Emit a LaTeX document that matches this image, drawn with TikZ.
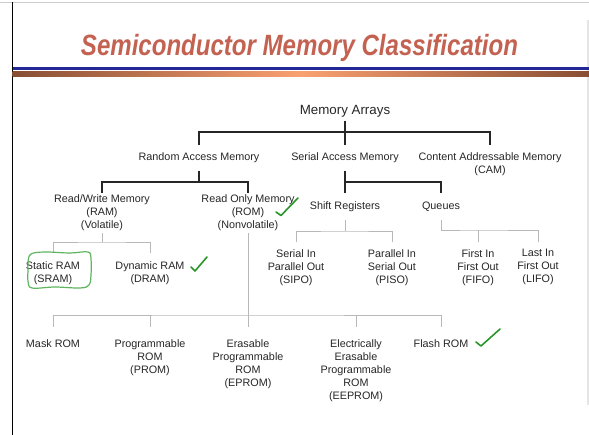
\documentclass[tikz,border=0pt]{standalone}
\usepackage{fontspec}
\setmainfont{Liberation Sans}
\usepackage{xcolor}
\usepackage{graphicx}
\usepackage{tikz}
\usetikzlibrary{positioning}

\definecolor{titlered}{RGB}{196,98,82}
\definecolor{barblue}{RGB}{35,40,150}
\definecolor{barbrown}{RGB}{135,78,52}
\definecolor{barorange}{RGB}{250,160,112}
\definecolor{checkgreen}{RGB}{40,150,40}
\definecolor{ringgreen}{RGB}{95,180,95}

\tikzset{
  mem/.style = {font=\fontsize{8.1}{9.75}\selectfont, text=black!85,
                align=center, inner sep=0pt, anchor=north},
  bline/.style = {line width=1.3pt, black!85},
  gline/.style = {line width=0.6pt, black!28},
  checkmark/.style = {checkgreen, line width=1.2pt, line cap=round, line join=round},
}

\begin{document}
\begin{tikzpicture}[x=0.75pt, y=-0.75pt]
  \useasboundingbox (0,0) rectangle (589,435);
  \draw[black!20, line width=0.8pt] (0,2.5) -- (589,2.5);
  \draw[black!10, line width=0.8pt] (588,20) -- (588,405);
  \draw[black, line width=1.2pt] (12.5,2.5) -- (12.5,435);

  \node[font=\fontsize{22}{26}\selectfont\bfseries\itshape, text=titlered, anchor=base]
    (title) at (299.5,56) {\scalebox{0.82}[1]{Semiconductor Memory Classification}};
  \fill[barblue] (12.5,67.3) rectangle (589,69.8);
  \shade[left color=barbrown, right color=barbrown, middle color=barorange]
    (12.5,72) rectangle (589,77);

  \node[mem, font=\fontsize{10}{12}\selectfont, outer ysep=2.8pt] (ma) at (345,101.3) {Memory Arrays};

  \node[mem, outer ysep=6pt] (ram) at (199,145) {Random Access Memory};
  \node[mem, outer ysep=6pt] (sam) at (345,145) {Serial Access Memory};
  \node[mem, outer ysep=6pt] (cam) at (490,145) {Content Addressable Memory\\(CAM)};

  \node[mem, outer ysep=1.5pt] (rw) at (102,193) {Read/Write Memory\\(RAM)\\(Volatile)};
  \node[mem, outer ysep=1.5pt] (rom) at (248,193) {Read Only Memory\\(ROM)\\(Nonvolatile)};
  \node[mem, outer ysep=6.5pt] (sr) at (345,193) {Shift Registers};
  \node[mem, outer ysep=6.5pt] (qu) at (441,193) {Queues};

  \node[mem, outer ysep=6.4pt] (sram) at (53,253) {Static RAM\\(SRAM)};
  \node[mem, outer ysep=6.4pt] (dram) at (150,253) {Dynamic RAM\\(DRAM)};
  \node[mem, outer ysep=6pt] (sipo) at (296,241.5) {Serial In\\Parallel Out\\(SIPO)};
  \node[mem, outer ysep=6pt] (piso) at (392,241.5) {Parallel In\\Serial Out\\(PISO)};
  \node[mem, outer ysep=6pt] (fifo) at (478,241.5) {First In\\First Out\\(FIFO)};
  \node[mem, outer ysep=6pt] (lifo) at (538,241.5) {Last In\\First Out\\(LIFO)};

  \node[mem, outer ysep=9.75pt] (mask) at (53,327) {Mask ROM};
  \node[mem, outer ysep=9.75pt] (prom) at (150,327) {Programmable\\ROM\\(PROM)};
  \node[mem, outer ysep=9.75pt] (eprom) at (248,327) {Erasable\\Programmable\\ROM\\(EPROM)};
  \node[mem, outer ysep=9.75pt] (eeprom) at (356,327) {Electrically\\Erasable\\Programmable\\ROM\\(EEPROM)};
  \node[mem, outer ysep=9.75pt] (flash) at (441,327) {Flash ROM};

  \coordinate (b1) at (345,132);
  \coordinate (b2) at (199,182);
  \coordinate (b3) at (345,182);
  \draw[bline] (ma.south) -- (sam.north);
  \draw[bline] (ram.north) |- (b1) -| (cam.north);
  \draw[bline] (ram.south) -- (b2);
  \draw[bline] (rw.north) |- (b2) -| (rom.north);
  \draw[bline] (sam.south) -- (sr.north);
  \draw[bline] (b3) -| (qu.north);

  \coordinate (g1) at (102,242);
  \coordinate (g2) at (345,231);
  \coordinate (g3) at (478,230);
  \coordinate (g4) at (248,315);
  \draw[gline] (rw.south) -- (g1);
  \draw[gline] (sram.north) |- (g1) -| (dram.north);
  \draw[gline] (sr.south) -- (g2);
  \draw[gline] (sipo.north) |- (g2) -| (piso.north);
  \draw[gline] (qu.south) |- (g3) -| (lifo.north);
  \draw[gline] (fifo.north) -- (g3);
  \draw[gline] (rom.south) -- (eprom.north);
  \draw[gline] (mask.north) |- (g4) -| (flash.north);
  \draw[gline] (prom.north) -- (prom.north |- g4);
  \draw[gline] (eeprom.north) -- (eeprom.north |- g4);

  \draw[checkmark] (276,212) -- (281,215.5) -- (298,198);
  \draw[checkmark] (191,267) -- (195,271) -- (207,257);
  \draw[checkmark] (476,342) -- (481,346) -- (500,329);
  \draw[ringgreen, line width=0.9pt] plot[smooth cycle, tension=0.6] coordinates
    {(28,262) (31,254) (45,252) (70,253) (88,252) (91,259) (91,275) (89,285)
     (80,288) (55,287) (32,288) (28,281) (28,270)};
\end{tikzpicture}
\end{document}
